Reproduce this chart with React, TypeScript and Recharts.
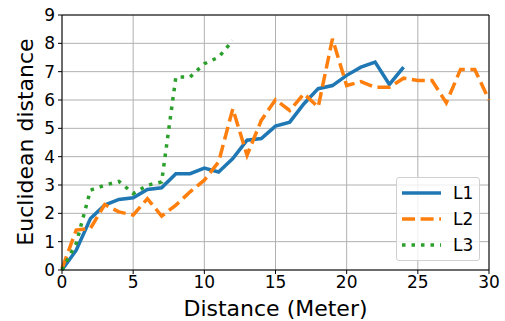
import { CartesianGrid, Label, Line, LineChart, ReferenceLine, XAxis, YAxis } from "recharts";

const distance = [0, 1, 2, 3, 4, 5, 6, 7, 8, 9, 10, 11, 12, 13, 14, 15, 16, 17, 18, 19, 20, 21, 22, 23, 24, 25, 26, 27, 28, 29, 30];
const l1 = [0, 0.7, 1.82, 2.29, 2.49, 2.55, 2.84, 2.9, 3.4, 3.4, 3.6, 3.46, 3.93, 4.58, 4.64, 5.08, 5.22, 5.87, 6.4, 6.51, 6.87, 7.16, 7.34, 6.55, 7.16];
const l2 = [0.05, 1.41, 1.47, 2.31, 2.05, 1.94, 2.52, 1.9, 2.29, 2.76, 3.17, 3.81, 5.69, 4.05, 5.28, 6.01, 5.63, 6.22, 5.75, 8.16, 6.51, 6.65, 6.45, 6.45, 6.77, 6.69, 6.69, 5.9, 7.08, 7.08, 6.0];
const l3 = [0, 0.94, 2.82, 2.99, 3.13, 2.7, 2.99, 3.11, 6.81, 6.81, 7.28, 7.51, 8.1];
const xTicks = [0, 5, 10, 15, 20, 25, 30];
const yTicks = [0, 1, 2, 3, 4, 5, 6, 7, 8, 9];

const series = [
	{ key: "l1", name: "L1", color: "#1f77b4", dash: undefined },
	{ key: "l2", name: "L2", color: "#ff7f0e", dash: "13 5.6" },
	{ key: "l3", name: "L3", color: "#2ca02c", dash: "3.5 6" },
];

const data = distance.map((d, i) => ({ d, l1: l1[i], l2: l2[i], l3: l3[i] }));

const font = "DejaVu Sans, sans-serif";

// legend drawn as an overlay so it doesn't eat into the plot area
function LegendBox() {
	return (
		<div
			style={{
				position: "absolute",
				left: 396,
				top: 177,
				width: 84,
				height: 84,
				boxSizing: "border-box",
				background: "rgba(255,255,255,0.8)",
				border: "1px solid #d0d0d0",
				borderRadius: 3,
				padding: "2px 0 0 4px",
				fontFamily: font,
				fontSize: 17,
				color: "#000",
			}}
		>
			{series.map((s) => (
				<div key={s.key} style={{ display: "flex", alignItems: "center", height: 26 }}>
					<svg width={40} height={10} style={{ marginRight: 12 }}>
						<line x1={1} y1={5} x2={40} y2={5} stroke={s.color} strokeWidth={3.5} strokeDasharray={s.dash} />
					</svg>
					<span>{s.name}</span>
				</div>
			))}
		</div>
	);
}

export default function App() {
	return (
		<div style={{ position: "absolute", left: 0, top: 0, width: 505, height: 321 }}>
			<LineChart width={505} height={321} data={data} margin={{ top: 15, right: 16, bottom: 0, left: 0 }}>
				<CartesianGrid stroke="#b0b0b0" strokeWidth={1} />
				<XAxis
					dataKey="d"
					type="number"
					domain={[0, 30]}
					ticks={xTicks}
					interval={0}
					height={51}
					stroke="#000"
					tick={{ fill: "#000", fontSize: 17, fontFamily: font }}
					tickSize={4}
					tickMargin={2}
				>
					<Label value="Distance (Meter)" position="insideBottom" offset={5} fill="#000" fontSize={22} fontFamily={font} />
				</XAxis>
				<YAxis
					type="number"
					domain={[0, 9]}
					ticks={yTicks}
					interval={0}
					width={62}
					stroke="#000"
					tick={{ fill: "#000", fontSize: 17, fontFamily: font }}
					tickSize={4}
					tickMargin={3}
				>
					<Label
						content={() => (
							<text
								x={25}
								y={142}
								transform="rotate(-90 25 142)"
								textAnchor="middle"
								dominantBaseline="central"
								fontSize={22}
								fontFamily={font}
								fill="#000"
							>
								Euclidean distance
							</text>
						)}
					/>
				</YAxis>
				<ReferenceLine y={9} stroke="#000" strokeWidth={1} />
				<ReferenceLine x={30} stroke="#000" strokeWidth={1} />
				{series.map((s) => (
					<Line
						key={s.key}
						dataKey={s.key}
						name={s.name}
						stroke={s.color}
						strokeWidth={3.5}
						strokeDasharray={s.dash}
						dot={false}
						activeDot={false}
						type="linear"
						isAnimationActive={false}
					/>
				))}
			</LineChart>
			<LegendBox />
		</div>
	);
}
